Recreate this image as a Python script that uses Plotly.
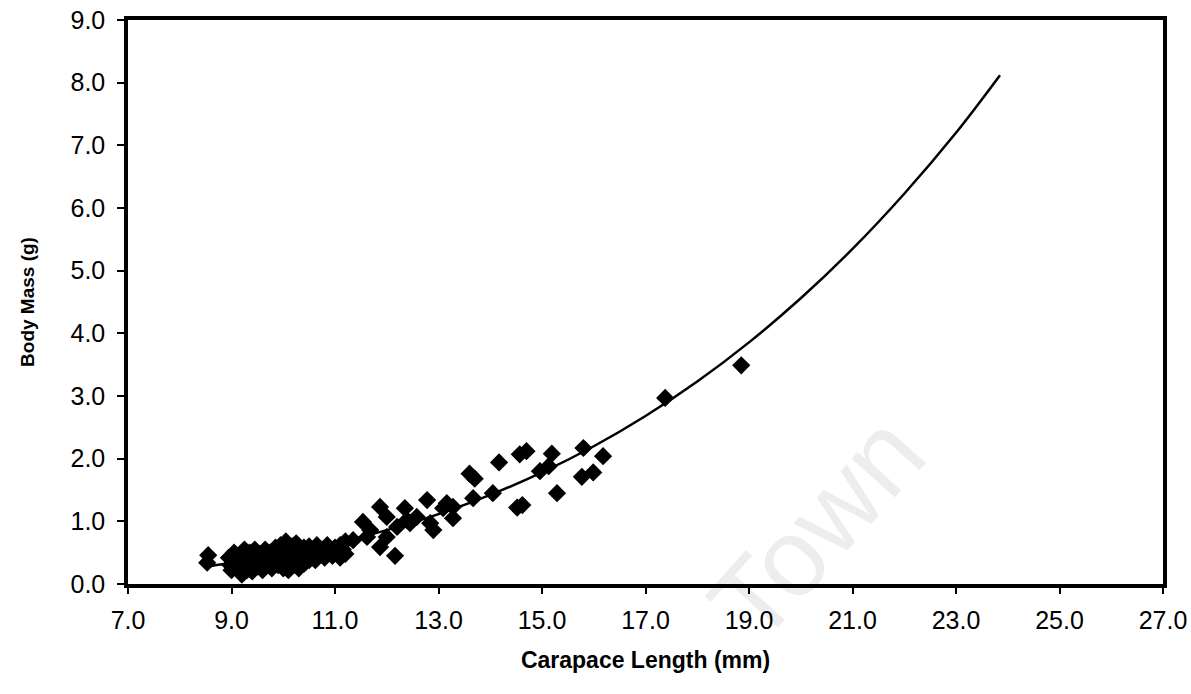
import plotly.graph_objects as go

# Scatter data: carapace length (mm) vs body mass (g)
carapace_mm = [
    8.55, 8.53,
    8.95, 8.98, 9.0, 9.05, 9.1, 9.1,
    9.15, 9.2, 9.2, 9.25, 9.28, 9.3,
    9.35, 9.38, 9.4, 9.45, 9.45, 9.5,
    9.55, 9.58, 9.6, 9.65, 9.68, 9.7,
    9.75, 9.78, 9.8, 9.85, 9.88, 9.9,
    9.95, 9.98, 10.0, 10.05, 10.05, 10.08, 10.1,
    10.15, 10.18, 10.2, 10.25, 10.25, 10.3, 10.3,
    10.35, 10.4, 10.4, 10.45, 10.5, 10.5,
    10.55, 10.6, 10.62, 10.65, 10.7,
    10.75, 10.8, 10.85, 10.9, 10.95, 11.0, 11.05, 11.1, 11.15, 11.2, 11.1, 11.2,
    11.35, 11.1, 11.54, 11.62, 11.68, 11.87, 11.87, 12.0, 12.0, 12.16,
    12.2, 12.35, 12.39, 12.45, 12.58, 12.78, 12.84, 12.9, 13.09, 13.28,
    13.16, 13.28, 13.6, 13.7, 13.67, 14.05, 14.17, 14.52, 14.62, 14.57,
    14.7, 14.96, 15.19, 15.13, 15.29, 15.8, 15.77, 15.99, 16.18, 17.38, 18.85,
]
body_mass_g = [
    0.46, 0.34,
    0.42, 0.30, 0.22, 0.50, 0.35, 0.25,
    0.45, 0.15, 0.30, 0.55, 0.40, 0.22,
    0.50, 0.30, 0.20, 0.55, 0.40, 0.28,
    0.48, 0.35, 0.22, 0.55, 0.42, 0.30,
    0.50, 0.25, 0.38, 0.58, 0.45, 0.30,
    0.62, 0.40, 0.25, 0.68, 0.50, 0.35, 0.22,
    0.45, 0.60, 0.30, 0.65, 0.38, 0.25, 0.52,
    0.45, 0.58, 0.32, 0.50, 0.38, 0.60,
    0.45, 0.55, 0.38, 0.62, 0.48,
    0.55, 0.42, 0.62, 0.50, 0.45, 0.58, 0.50, 0.62, 0.55, 0.48, 0.42, 0.68,
    0.70, 0.59, 0.99, 0.75, 0.86, 1.23, 0.59, 1.07, 0.75, 0.45,
    0.91, 1.21, 1.02, 0.97, 1.07, 1.34, 0.97, 0.86, 1.21, 1.23,
    1.29, 1.05, 1.76, 1.68, 1.37, 1.45, 1.94, 1.22, 1.26, 2.07,
    2.12, 1.80, 2.08, 1.88, 1.45, 2.17, 1.71, 1.78, 2.04, 2.97, 3.49,
]

# Power trendline, points
trend_x = [8.6, 9.0, 10.0, 11.0, 12.0, 13.0, 14.0, 15.0, 16.0, 17.0, 18.0,
           19.0, 20.0, 21.0, 22.0, 23.0, 23.85]
trend_y = [0.289, 0.335, 0.473, 0.646, 0.859, 1.115, 1.422, 1.781, 2.198,
           2.681, 3.231, 3.856, 4.559, 5.347, 6.228, 7.201, 8.12]

x_ticks = [7.0, 9.0, 11.0, 13.0, 15.0, 17.0, 19.0, 21.0, 23.0, 25.0, 27.0]
y_ticks = [0.0, 1.0, 2.0, 3.0, 4.0, 5.0, 6.0, 7.0, 8.0, 9.0]

FONT = "Liberation Sans, Arial, sans-serif"

fig = go.Figure()
fig.add_trace(go.Scatter(
    x=trend_x, y=trend_y, mode="lines", line=dict(color="black", width=2.5, shape="spline"),
    hoverinfo="skip", showlegend=False,
))
fig.add_trace(go.Scatter(
    x=carapace_mm, y=body_mass_g, mode="markers",
    marker=dict(symbol="diamond", size=14, color="black", line=dict(width=0)),
    showlegend=False,
))

# faint scan watermark
fig.add_annotation(
    x=20.3, y=0.9, xref="x", yref="y", text="Town", showarrow=False,
    textangle=-48, font=dict(family=FONT, size=110, color="rgba(0,0,0,0.07)"),
)

fig.update_layout(
    width=1191, height=694,
    margin=dict(l=128, r=28, t=20, b=110, autoexpand=False),
    plot_bgcolor="white", paper_bgcolor="white",
    font=dict(family=FONT, color="black", size=24),
    xaxis=dict(
        range=[7.0, 27.0], tickvals=x_ticks, ticktext=[f"{v:.1f}" for v in x_ticks],
        tickfont=dict(family=FONT, size=25, color="black"),
        showgrid=False, zeroline=False, showline=True, linewidth=3.5, linecolor="black",
        mirror=True, ticks="outside", ticklen=6, tickwidth=1.5, tickcolor="black",
        ticklabelstandoff=5,
        title=dict(text="<b>Carapace Length (mm)</b>", font=dict(size=23), standoff=20),
    ),
    yaxis=dict(
        range=[0.0, 9.0], tickvals=y_ticks, ticktext=[f"{v:.1f}" for v in y_ticks],
        tickfont=dict(family=FONT, size=25, color="black"),
        showgrid=False, zeroline=False, showline=True, linewidth=3.5, linecolor="black",
        mirror=True, ticks="outside", ticklen=7, tickwidth=1.5, tickcolor="black",
        ticklabelstandoff=7,
        title=dict(text="<b>Body Mass (g)</b>", font=dict(size=19), standoff=32),
    ),
)

fig.write_html("out.html")
